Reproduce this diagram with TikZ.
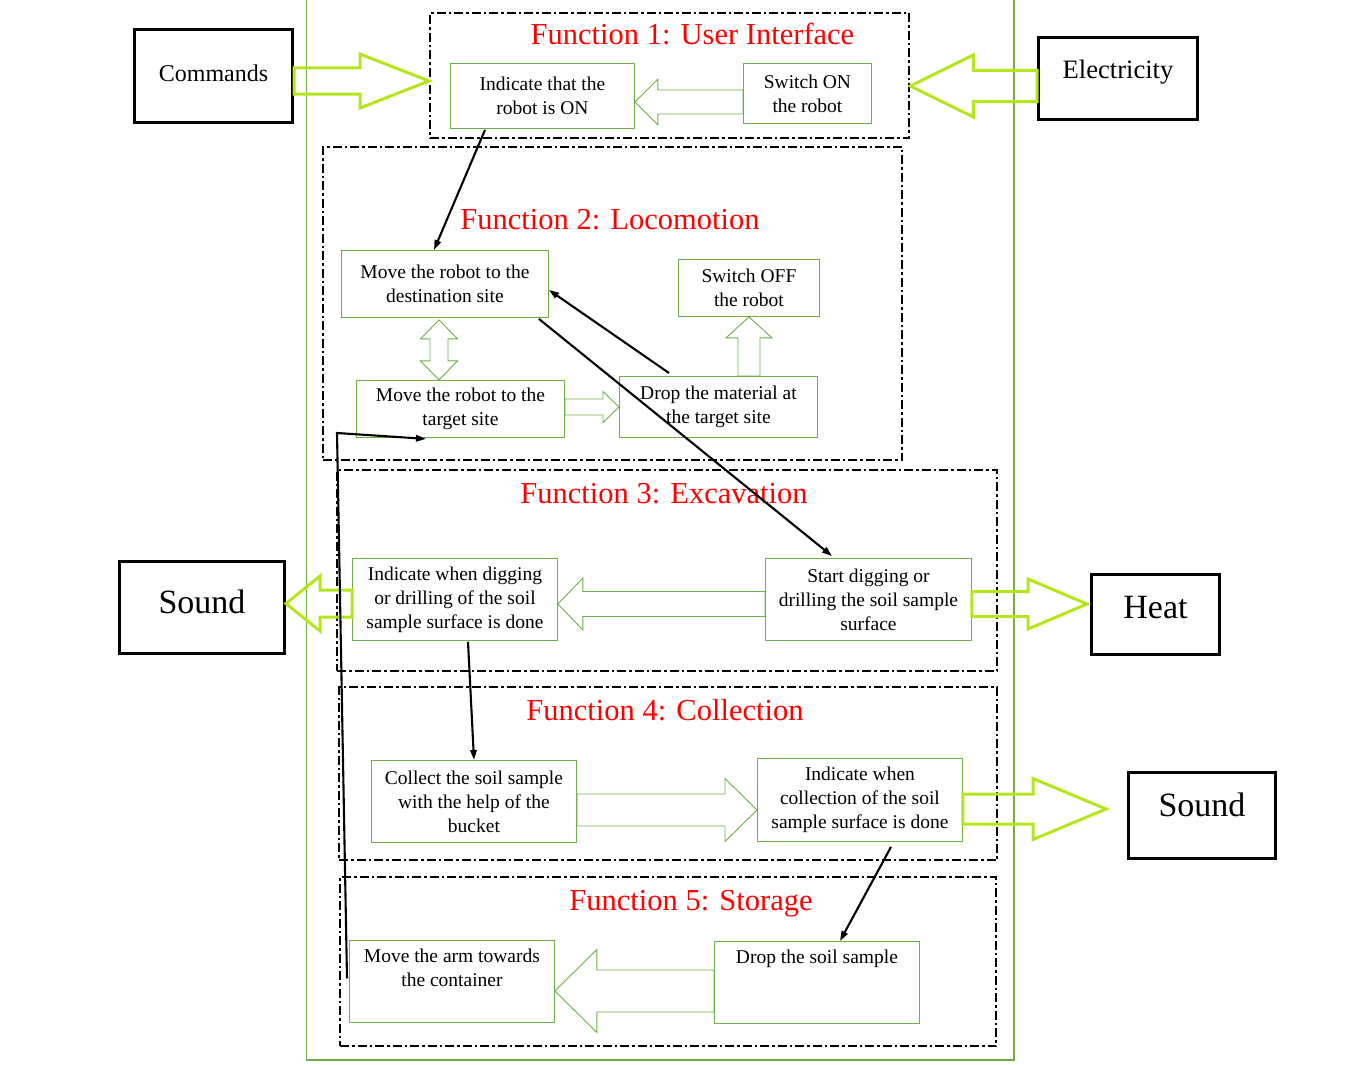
\documentclass[tikz,border=0pt]{standalone}
\usepackage{fontspec}
\setmainfont{Liberation Serif}
\usetikzlibrary{calc,arrows.meta}

\definecolor{boxgreen}{RGB}{112,173,71}
\definecolor{limegreen}{RGB}{181,230,29}
\definecolor{titlered}{RGB}{255,0,0}

% hollow block arrow: [style]{tail}{tip}{shaft half width}{head half width}{head length}
\newcommand{\hollowarrow}[6][]{%
  \coordinate (ha-tail) at (#2);
  \coordinate (ha-tip) at (#3);
  \coordinate (ha-base) at ($(ha-tip)!#6!(ha-tail)$);
  \draw[#1] ($(ha-tail)!#4!90:(ha-tip)$) -- ($(ha-base)!#4!-90:(ha-tail)$)
    -- ($(ha-base)!#5!-90:(ha-tail)$) -- (ha-tip)
    -- ($(ha-base)!#5!90:(ha-tail)$) -- ($(ha-base)!#4!90:(ha-tail)$)
    -- ($(ha-tail)!#4!-90:(ha-tip)$) -- cycle;
}

\begin{document}
\begin{tikzpicture}[x=1pt,y=-1pt,
   func/.style={draw=boxgreen,line width=0.9pt,align=center,anchor=north west,
     inner sep=0pt,font=\fontsize{19.5}{24}\selectfont},
   ext/.style={draw=black,line width=3pt,anchor=north west,inner sep=0pt},
   frame/.style={draw=black,line width=2.3pt,anchor=north west,inner sep=0pt,
     dash pattern=on 9pt off 3pt on 2.5pt off 3pt},
   ftitle/.style={text=titlered,anchor=base,font=\fontsize{30.5}{36}\selectfont},
   conn/.style={line width=2.1pt,-{Triangle[length=10pt,width=6.5pt]}},
   flow/.style={draw=limegreen,line width=3pt},
   thin flow/.style={draw=boxgreen,line width=0.9pt}]
\useasboundingbox (0,0) rectangle (1355,1065);
\draw[boxgreen,line width=1.2pt] (306.5,0) |- (1014,1060) -- (1014,0);

% function frames
\node[frame,minimum width=479pt,minimum height=125pt] (f1) at (429,12) {};
\node[frame,minimum width=579pt,minimum height=313pt] (f2) at (322,146) {};
\node[frame,minimum width=660pt,minimum height=201pt] (f3) at (336,469) {};
\node[frame,minimum width=658pt,minimum height=173pt] (f4) at (338,686) {};
\node[frame,minimum width=656pt,minimum height=169pt] (f5) at (339,876) {};
\node[ftitle] (t1) at (692.5,45) {Function 1: User Interface};
\node[ftitle] (t2) at (610,229) {Function 2: Locomotion};
\node[ftitle] (t3) at (664,503) {Function 3: Excavation};
\node[ftitle] (t4) at (665,720) {Function 4: Collection};
\node[ftitle] (t5) at (691,910) {Function 5: Storage};

% inputs and outputs
\node[ext,minimum width=158pt,minimum height=93pt,text depth=6.6pt,
  font=\fontsize{24}{28}\selectfont] (cmd) at (133,28) {Commands};
\node[ext,minimum width=159pt,minimum height=82pt,text depth=18pt,
  font=\fontsize{26.6}{30}\selectfont] (elec) at (1037,36) {Electricity};
\node[ext,minimum width=165pt,minimum height=92pt,text depth=11pt,
  font=\fontsize{34}{38}\selectfont] (sndl) at (118,560) {Sound};
\node[ext,minimum width=128pt,minimum height=80pt,text depth=15pt,
  font=\fontsize{34}{38}\selectfont] (heat) at (1090,573) {Heat};
\node[ext,minimum width=147pt,minimum height=86pt,text depth=21pt,
  font=\fontsize{34}{38}\selectfont] (sndr) at (1127,771) {Sound};

% function boxes
\node[func,minimum width=184pt,minimum height=65pt] (ion) at (450,63) {Indicate that the\\robot is ON};
\node[func,minimum width=128pt,minimum height=60pt] (son) at (743,63) {Switch ON\\the robot};
\node[func,minimum width=207pt,minimum height=67pt] (dest) at (341,250) {Move the robot to the\\destination site};
\node[func,minimum width=141pt,minimum height=57pt] (soff) at (678,259) {Switch OFF\\the robot};
\node[func,minimum width=208pt,minimum height=57pt] (target) at (356,380) {Move the robot to the\\target site};
\node[func,minimum width=198pt,minimum height=61pt] (dropmat) at (619,376) {Drop the material at\\the target site};
\node[func,minimum width=205pt,minimum height=82pt] (inddig) at (352,558) {Indicate when digging\\or drilling of the soil\\sample surface is done};
\node[func,minimum width=206pt,minimum height=82pt] (startdig) at (765,558) {Start digging or\\drilling the soil sample\\surface};
\node[func,minimum width=205pt,minimum height=82pt] (collect) at (371,760) {Collect the soil sample\\with the help of the\\bucket};
\node[func,minimum width=205pt,minimum height=83pt] (indcoll) at (757,758) {Indicate when\\collection of the soil\\sample surface is done};
\node[func,minimum width=205pt,minimum height=82pt,text depth=28pt] (movearm) at (349,940) {Move the arm towards\\the container};
\node[func,minimum width=205pt,minimum height=82pt,text depth=52pt] (dropsoil) at (714,941) {Drop the soil sample};

% block arrows
\hollowarrow[flow]{cmd.east |- 0,81}{f1.west |- 0,81}{13pt}{27pt}{69pt}
\hollowarrow[flow]{elec.west |- 0,86}{f1.east |- 0,86}{15.5pt}{31pt}{63pt}
\hollowarrow[flow]{inddig.west |- 0,603.5}{sndl.east |- 0,603.5}{13.5pt}{27.5pt}{34pt}
\hollowarrow[flow]{startdig.east |- 0,604}{1087,604}{12.5pt}{25pt}{59pt}
\hollowarrow[flow]{indcoll.east |- 0,809}{1106,809}{15pt}{30.5pt}{73pt}
\hollowarrow[thin flow]{son.west |- 0,102}{ion.east |- 0,102}{12pt}{23pt}{23pt}
\hollowarrow[thin flow]{target.east |- 0,407}{dropmat.west |- 0,407}{8pt}{15.5pt}{16pt}
\hollowarrow[thin flow]{dropmat.north -| 749,0}{soff.south -| 749,0}{11pt}{23pt}{21pt}
\hollowarrow[thin flow]{startdig.west |- 0,604}{inddig.east |- 0,604}{12.5pt}{26pt}{25pt}
\hollowarrow[thin flow]{collect.east |- 0,810}{indcoll.west |- 0,810}{16pt}{31.5pt}{32pt}
\hollowarrow[thin flow]{dropsoil.west |- 0,991}{movearm.east |- 0,991}{21pt}{41.5pt}{42pt}
\draw[thin flow] ($(dest.south -| 439,0)+(0,2)$) -- ++(18.5,19) -- ++(-9.5,0) -- ++(0,22)
  -- ++(9.5,0) -- ++(-18.5,19) -- ++(-18.5,-19) -- ++(9.5,0) -- ++(0,-22) -- ++(-9.5,0) -- cycle;

% sequence
\draw[conn] ($(ion.south west)+(35,1)$) -- ($(dest.north west)+(93,0)$);
\draw[conn] ($(dropmat.north west)+(50,-3)$) -- ($(dest.east)+(0,6)$);
\draw[conn] ($(dest.south east)+(-10,1)$) -- ($(startdig.north west)+(67,-2)$);
\draw[conn] ($(inddig.south west)+(116,1)$) -- ($(collect.north west)+(103,0)$);
\draw[conn] ($(indcoll.south west)+(134,5)$) -- ($(dropsoil.north west)+(126,0)$);
\coordinate (bend) at (337,433);
\draw[conn] ($(movearm.west)+(-2,-3)$) -- (bend) -- ($(target.south west)+(70,1)$);
\end{tikzpicture}
\end{document}
